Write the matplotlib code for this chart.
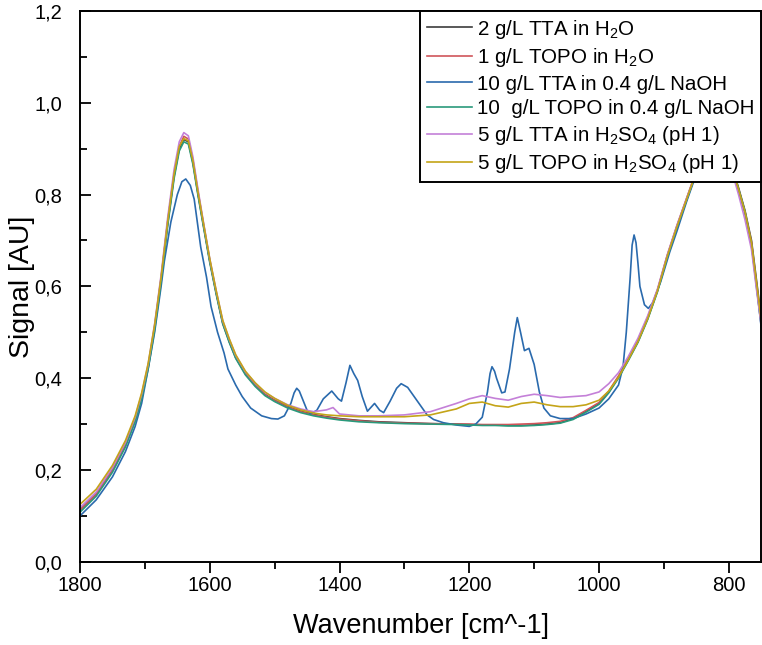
"""
FTIR spectra of extractant solutions (water / NaOH / H2SO4 backgrounds).
"""

import matplotlib
matplotlib.use("Agg")
import matplotlib.pyplot as plt
from matplotlib.ticker import FuncFormatter, MultipleLocator

plt.rcParams["font.family"] = ["Liberation Sans", "DejaVu Sans"]
plt.rcParams["mathtext.default"] = "regular"

# shared wavenumber grid for the five "smooth" spectra
wn = [1800, 1775, 1750, 1730, 1715, 1705, 1695, 1685, 1675, 1665, 1655, 1647, 1640,
      1633, 1626, 1618, 1610, 1600, 1590, 1580, 1570, 1560, 1545, 1530, 1515, 1500,
      1480, 1460, 1440, 1420, 1410, 1400, 1370, 1340, 1300, 1260, 1220, 1200, 1180,
      1160, 1140, 1120, 1100, 1080, 1060, 1040, 1020, 1000, 985, 970, 955, 940, 925,
      910, 895, 880, 865, 850, 835, 820, 805, 795, 785, 775, 765, 757, 750]

tta_h2o = [0.113, 0.148, 0.200, 0.255, 0.310, 0.360, 0.425, 0.510, 0.615, 0.735, 0.840,
           0.900, 0.920, 0.915, 0.870, 0.800, 0.735, 0.655, 0.585, 0.520, 0.480, 0.445,
           0.410, 0.385, 0.365, 0.352, 0.338, 0.328, 0.321, 0.316, 0.314, 0.312, 0.308,
           0.305, 0.303, 0.301, 0.300, 0.299, 0.298, 0.298, 0.297, 0.297, 0.298, 0.300,
           0.303, 0.312, 0.328, 0.345, 0.370, 0.402, 0.440, 0.480, 0.530, 0.590, 0.665,
           0.730, 0.790, 0.850, 0.880, 0.900, 0.890, 0.860, 0.815, 0.765, 0.700, 0.610,
           0.530]

topo_h2o = [0.112, 0.147, 0.199, 0.254, 0.308, 0.358, 0.424, 0.512, 0.618, 0.740, 0.845,
            0.905, 0.927, 0.921, 0.876, 0.805, 0.738, 0.657, 0.586, 0.521, 0.480, 0.445,
            0.409, 0.384, 0.364, 0.351, 0.337, 0.327, 0.320, 0.315, 0.313, 0.311, 0.307,
            0.304, 0.302, 0.301, 0.300, 0.300, 0.299, 0.299, 0.299, 0.300, 0.301, 0.303,
            0.306, 0.314, 0.330, 0.347, 0.372, 0.405, 0.443, 0.483, 0.533, 0.592, 0.667,
            0.732, 0.792, 0.852, 0.880, 0.900, 0.890, 0.858, 0.810, 0.760, 0.695, 0.600,
            0.520]

topo_naoh = [0.108, 0.143, 0.195, 0.250, 0.305, 0.355, 0.420, 0.505, 0.610, 0.730, 0.835,
             0.895, 0.915, 0.910, 0.866, 0.797, 0.732, 0.652, 0.582, 0.518, 0.478, 0.443,
             0.407, 0.382, 0.362, 0.349, 0.335, 0.325, 0.318, 0.313, 0.311, 0.309, 0.305,
             0.303, 0.301, 0.300, 0.299, 0.298, 0.297, 0.297, 0.296, 0.296, 0.297, 0.299,
             0.302, 0.310, 0.326, 0.343, 0.368, 0.400, 0.438, 0.478, 0.528, 0.588, 0.662,
             0.728, 0.788, 0.848, 0.880, 0.900, 0.890, 0.860, 0.812, 0.762, 0.690, 0.595,
             0.515]

tta_h2so4 = [0.118, 0.152, 0.205, 0.260, 0.315, 0.365, 0.430, 0.518, 0.625, 0.748, 0.855,
             0.915, 0.935, 0.928, 0.882, 0.810, 0.742, 0.660, 0.590, 0.525, 0.485, 0.450,
             0.414, 0.389, 0.369, 0.356, 0.342, 0.333, 0.327, 0.331, 0.336, 0.322, 0.318,
             0.318, 0.320, 0.327, 0.345, 0.355, 0.362, 0.356, 0.352, 0.360, 0.365, 0.362,
             0.358, 0.360, 0.362, 0.370, 0.388, 0.412, 0.447, 0.487, 0.536, 0.594, 0.668,
             0.733, 0.792, 0.850, 0.880, 0.900, 0.885, 0.850, 0.800, 0.745, 0.680, 0.590,
             0.515]

topo_h2so4 = [0.125, 0.158, 0.210, 0.264, 0.318, 0.368, 0.432, 0.516, 0.620, 0.740, 0.845,
              0.905, 0.922, 0.917, 0.874, 0.804, 0.740, 0.660, 0.590, 0.526, 0.486, 0.451,
              0.415, 0.390, 0.370, 0.356, 0.341, 0.331, 0.324, 0.320, 0.319, 0.318, 0.316,
              0.316, 0.316, 0.320, 0.333, 0.345, 0.348, 0.340, 0.337, 0.345, 0.348, 0.342,
              0.338, 0.338, 0.342, 0.352, 0.372, 0.402, 0.440, 0.480, 0.530, 0.590, 0.665,
              0.730, 0.790, 0.850, 0.880, 0.900, 0.890, 0.858, 0.812, 0.762, 0.695, 0.605,
              0.525]

# 10 g/L TTA in NaOH has its own bands, so its own grid
wn_tta_naoh = [1800, 1775, 1750, 1730, 1715, 1705, 1695, 1685, 1675, 1670, 1660, 1650,
               1643, 1637, 1630, 1624, 1614, 1605, 1598, 1588, 1578, 1572, 1560, 1550,
               1537, 1520, 1505, 1495, 1485, 1475, 1470, 1466, 1462, 1458, 1450, 1445,
               1435, 1425, 1412, 1402, 1397, 1390, 1384, 1378, 1372, 1365, 1357, 1346,
               1338, 1332, 1322, 1312, 1305, 1295, 1280, 1265, 1255, 1240, 1220, 1200,
               1190, 1180, 1172, 1168, 1165, 1161, 1158, 1150, 1145, 1138, 1130, 1126,
               1121, 1115, 1108, 1100, 1092, 1085, 1075, 1060, 1040, 1020, 1000, 985, 970,
               963, 958, 952, 949, 946, 943, 940, 937, 930, 924, 917, 905, 891, 880, 865,
               850, 835, 820, 805, 795, 785, 775, 765, 757, 750]
tta_naoh = [0.100, 0.135, 0.185, 0.240, 0.295, 0.345, 0.420, 0.500, 0.600, 0.655, 0.740,
            0.800, 0.828, 0.834, 0.820, 0.790, 0.686, 0.620, 0.556, 0.500, 0.455, 0.420,
            0.385, 0.360, 0.335, 0.318, 0.312, 0.311, 0.318, 0.345, 0.368, 0.378, 0.372,
            0.358, 0.330, 0.322, 0.330, 0.355, 0.372, 0.355, 0.350, 0.390, 0.428, 0.410,
            0.395, 0.360, 0.328, 0.345, 0.330, 0.325, 0.350, 0.378, 0.388, 0.380, 0.350,
            0.320, 0.310, 0.303, 0.298, 0.295, 0.300, 0.315, 0.370, 0.410, 0.425, 0.415,
            0.400, 0.368, 0.370, 0.420, 0.500, 0.532, 0.500, 0.460, 0.465, 0.430, 0.370,
            0.335, 0.318, 0.312, 0.312, 0.322, 0.335, 0.355, 0.385, 0.425, 0.500, 0.620,
            0.690, 0.712, 0.695, 0.650, 0.600, 0.560, 0.552, 0.565, 0.610, 0.675, 0.720,
            0.785, 0.845, 0.880, 0.900, 0.890, 0.860, 0.810, 0.760, 0.690, 0.600, 0.510]

labels = [
    "2 g/L TTA in H$_2$O",
    "1 g/L TOPO in H$_2$O",
    "10 g/L TTA in 0.4 g/L NaOH",
    "10  g/L TOPO in 0.4 g/L NaOH",
    "5 g/L TTA in H$_2$SO$_4$ (pH 1)",
    "5 g/L TOPO in H$_2$SO$_4$ (pH 1)",
]
colors = ["#3c3c3c", "#d0555a", "#2a6aad", "#2a9a7c", "#c480d8", "#c4a418"]

fig = plt.figure(figsize=(7.62, 6.45), dpi=100)
ax = fig.add_axes([0.105, 0.129, 0.894, 0.854])

series = [(wn, tta_h2o), (wn, topo_h2o), (wn_tta_naoh, tta_naoh),
          (wn, topo_naoh), (wn, tta_h2so4), (wn, topo_h2so4)]
for (x, y), lab, c in zip(series, labels, colors):
    ax.plot(x, y, color=c, lw=1.2, label=lab)

ax.set_xlim(1800, 750)
ax.set_ylim(0, 1.2)
ax.xaxis.set_major_locator(MultipleLocator(200))
ax.xaxis.set_minor_locator(MultipleLocator(100))
ax.yaxis.set_major_locator(MultipleLocator(0.2))
ax.yaxis.set_minor_locator(MultipleLocator(0.1))
ax.yaxis.set_major_formatter(FuncFormatter(lambda v, _: f"{v:.1f}".replace(".", ",")))

ax.tick_params(axis="x", which="major", direction="out", length=8, width=1.3, labelsize=14.5, pad=2)
ax.tick_params(axis="x", which="minor", direction="out", length=5, width=1.3)
ax.tick_params(axis="y", which="major", direction="in", length=8, width=1.3, labelsize=14.5, pad=13)
ax.tick_params(axis="y", which="minor", direction="in", length=5, width=1.3)
for s in ax.spines.values():
    s.set_linewidth(1.4)

ax.set_xlabel("Wavenumber [cm^-1]", fontsize=19.5, labelpad=13)
ax.set_ylabel("Signal [AU]", fontsize=20.5)
ax.yaxis.set_label_coords(-0.066, 0.5)

leg = ax.legend(loc="upper right", fontsize=14.8, frameon=True, fancybox=False,
                edgecolor="black", borderaxespad=0, handlelength=2.2,
                handletextpad=0.25, labelspacing=0.27, borderpad=0.32)
leg.get_frame().set_linewidth(1.4)
leg.get_frame().set_alpha(1)

fig.savefig("out.png", dpi=100)
